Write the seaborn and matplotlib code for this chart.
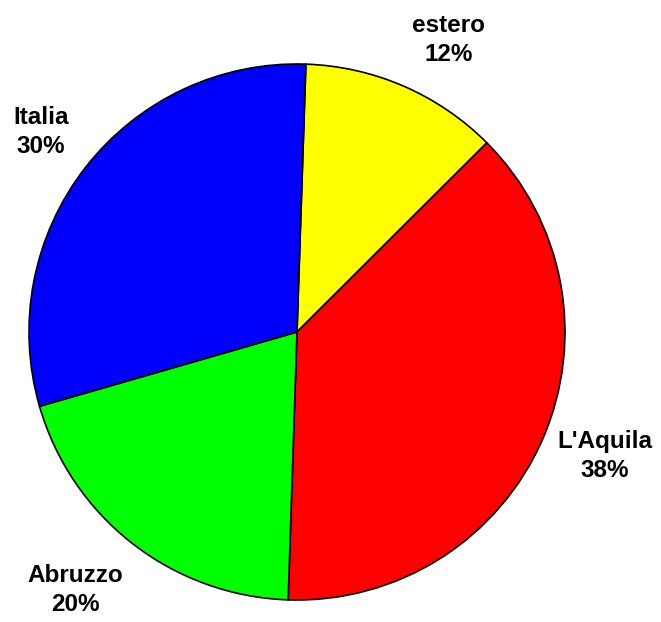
import matplotlib
matplotlib.use("Agg")
import matplotlib.pyplot as plt
import seaborn as sns

sns.set_theme(style="white")
plt.rcParams['font.family'] = ['Liberation Sans', 'DejaVu Sans']

categories = ["estero", "L'Aquila", "Abruzzo", "Italia"]
values = [12, 38, 20, 30]
colors = ["#FFFF00", "#FF0000", "#00FF00", "#0000FF"]
# label centre positions (in pie radius units)
label_pos = [(0.567, 1.090), (1.149, -0.462), (-0.828, -0.963), (-0.955, 0.746)]

W, H = 661, 622
fig = plt.figure(figsize=(W / 100, H / 100), dpi=100)
cx, cy, r = 297, 332, 268
ax = fig.add_axes([(cx - r) / W, (H - cy - r) / H, 2 * r / W, 2 * r / H])

labels = [f"{c}\n{v}%" for c, v in zip(categories, values)]
wedges, texts = ax.pie(values, labels=labels, colors=colors, startangle=88.1,
                       counterclock=False, labeldistance=1.235,
                       wedgeprops=dict(edgecolor="black", linewidth=1.2),
                       textprops=dict(fontsize=17.5, fontweight="bold", color="black"))
for t, p in zip(texts, label_pos):
    t.set_position(p)
    t.set_horizontalalignment("center")
    t.set_verticalalignment("center")
    t.set_multialignment("center")
    t.set_linespacing(1.3)
    t.set_clip_on(False)
ax.set_xlim(-1, 1)
ax.set_ylim(-1, 1)
ax.set_aspect("equal")
ax.axis("off")

fig.savefig("out.png", dpi=100)
